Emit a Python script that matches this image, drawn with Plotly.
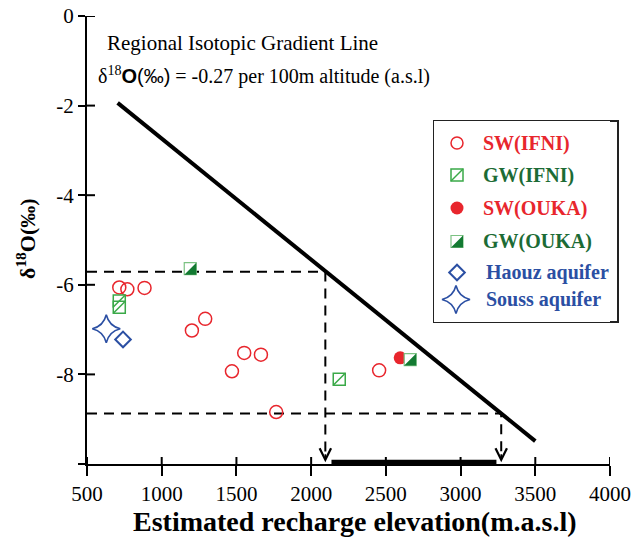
import plotly.graph_objects as go

# ---------------- data ----------------
sw_ifni_x = [716, 770, 885, 1291, 1202, 1552, 1664, 1470, 1766, 2455]
sw_ifni_y = [-6.06, -6.10, -6.07, -6.76, -7.02, -7.52, -7.56, -7.93, -8.84, -7.91]
gw_ifni_x = [716, 716, 2188]
gw_ifni_y = [-6.36, -6.50, -8.11]
sw_ouka_x = [2596]
sw_ouka_y = [-7.63]
gw_ouka_x = [1191, 2663]
gw_ouka_y = [-5.64, -7.67]
haouz_x = [741]
haouz_y = [-7.22]
souss_x = [629]
souss_y = [-6.98]
gradient_x = [705, 3500]
gradient_y = [-1.94, -9.49]
band_d18o = [-5.71, -8.87]          # isotopic limits (dashed)
band_elev = [2095, 3272]            # recharge elevations read on gradient line
recharge_bar = [2136, 3240]
x_ticks = [500, 1000, 1500, 2000, 2500, 3000, 3500, 4000]
x_tick_text = ["500", "1000", "1500", "2000", "2500", "3000", "3500", "4000"]
y_ticks = [0, -2, -4, -6, -8]
y_tick_text = ["0", "-2", "-4", "-6", "-8"]

legend_names = ["SW(IFNI)", "GW(IFNI)", "SW(OUKA)", "GW(OUKA)", "Haouz aquifer", "Souss aquifer"]

# ---------------- layout geometry ----------------
W, H = 644, 540
ML, MR, MT, MB = 87, 34, 16, 76
PW, PH = W - ML - MR, H - MT - MB
X_RANGE = [500, 4000]
Y_RANGE = [-10, 0]
px_x = PW / (X_RANGE[1] - X_RANGE[0])
px_y = PH / (Y_RANGE[1] - Y_RANGE[0])

RED = "#e8262d"
GREEN_L = "#3aa948"
GREEN_D = "#137a32"
GREEN_T = "#1c6b35"
BLUE = "#2b4fa3"
SERIF = "Liberation Serif"


def half_square(xs, ys, half_px, sx, sy):
    """lower-right filled triangle of a square centred on each point"""
    px, py = [], []
    for xc, yc in zip(xs, ys):
        dx, dy = half_px / sx, half_px / sy
        px += [xc + dx, xc + dx, xc - dx, xc + dx, None]
        py += [yc + dy, yc - dy, yc - dy, yc + dy, None]
    return px, py


fig = go.Figure()

# gradient line
fig.add_trace(go.Scatter(x=gradient_x, y=gradient_y, mode="lines",
                         line=dict(color="black", width=4), showlegend=False))

# dashed guides
dash = "10px,7px"
for yv, xv in zip(band_d18o, band_elev):
    fig.add_trace(go.Scatter(x=[X_RANGE[0], xv, xv], y=[yv, yv, Y_RANGE[0] + 0.15],
                             mode="lines", line=dict(color="black", width=2, dash=dash),
                             showlegend=False, cliponaxis=False))

# thick recharge bar on the x axis
fig.add_trace(go.Scatter(x=recharge_bar, y=[Y_RANGE[0] + 0.04] * 2, mode="lines",
                         line=dict(color="black", width=5), showlegend=False, cliponaxis=False))

# SW(IFNI)
fig.add_trace(go.Scatter(x=sw_ifni_x, y=sw_ifni_y, mode="markers", showlegend=False,
                         marker=dict(symbol="circle-open", size=13, color=RED, line=dict(width=1.5))))
# GW(IFNI)
fig.add_trace(go.Scatter(x=gw_ifni_x, y=gw_ifni_y, mode="markers", showlegend=False,
                         marker=dict(symbol="square", size=12, color="white",
                                     line=dict(width=1.5, color=GREEN_L))))
fig.add_trace(go.Scatter(x=gw_ifni_x, y=gw_ifni_y, mode="markers", showlegend=False,
                         marker=dict(symbol="line-ne", size=12, color=GREEN_L,
                                     line=dict(width=1.5, color=GREEN_L))))
# SW(OUKA)
fig.add_trace(go.Scatter(x=sw_ouka_x, y=sw_ouka_y, mode="markers", showlegend=False,
                         marker=dict(symbol="circle", size=13, color=RED)))
# GW(OUKA)
fig.add_trace(go.Scatter(x=gw_ouka_x, y=gw_ouka_y, mode="markers", showlegend=False,
                         marker=dict(symbol="square", size=12, color="white",
                                     line=dict(width=1.2, color="#7cc283"))))
tx, ty = half_square(gw_ouka_x, gw_ouka_y, 6, px_x, px_y)
fig.add_trace(go.Scatter(x=tx, y=ty, mode="lines", fill="toself", fillcolor=GREEN_D,
                         line=dict(width=0, color=GREEN_D), showlegend=False, hoverinfo="skip"))
# Haouz
fig.add_trace(go.Scatter(x=haouz_x, y=haouz_y, mode="markers", showlegend=False,
                         marker=dict(symbol="diamond-open", size=12, color=BLUE, line=dict(width=2))))
# Souss
fig.add_trace(go.Scatter(x=souss_x, y=souss_y, mode="markers", showlegend=False,
                         marker=dict(symbol="star-diamond-open", size=20, color=BLUE, line=dict(width=1.6))))

# ---------------- custom legend (pixel-based sub axes) ----------------
LBX0, LBX1, LBY0, LBY1 = 434, 618, 121, 322
lx_dom = [(LBX0 - ML) / PW, 1.0]
ly_dom = [(H - MB - LBY1) / PH, (H - MB - LBY0) / PH]
lx_range = [LBX0, ML + PW]
ly_range = [LBY1, LBY0]
row_y = [143, 175, 208, 241.5, 272.5, 299.5]
mk_x = 457
txt_x = [481, 481, 481, 481, 484, 484]
txt_col = [RED, GREEN_T, RED, GREEN_T, BLUE, BLUE]

def lg(trace):
    trace.update(xaxis="x2", yaxis="y2", showlegend=False, hoverinfo="skip")
    fig.add_trace(trace)

lg(go.Scatter(x=[mk_x], y=[row_y[0]], mode="markers",
              marker=dict(symbol="circle-open", size=12, color=RED, line=dict(width=1.5))))
lg(go.Scatter(x=[mk_x], y=[row_y[1]], mode="markers",
              marker=dict(symbol="square", size=12, color="white", line=dict(width=1.5, color=GREEN_L))))
lg(go.Scatter(x=[mk_x], y=[row_y[1]], mode="markers",
              marker=dict(symbol="line-ne", size=12, color=GREEN_L, line=dict(width=1.5, color=GREEN_L))))
lg(go.Scatter(x=[mk_x], y=[row_y[2]], mode="markers",
              marker=dict(symbol="circle", size=13, color=RED)))
lg(go.Scatter(x=[mk_x], y=[row_y[3]], mode="markers",
              marker=dict(symbol="square", size=12, color="white", line=dict(width=1.2, color="#7cc283"))))
ltx, lty = half_square([mk_x], [row_y[3]], 6, 1.0, -1.0)
lg(go.Scatter(x=ltx, y=lty, mode="lines", fill="toself", fillcolor=GREEN_D,
              line=dict(width=0, color=GREEN_D)))
lg(go.Scatter(x=[mk_x], y=[row_y[4]], mode="markers",
              marker=dict(symbol="diamond-open", size=12, color=BLUE, line=dict(width=2))))
lg(go.Scatter(x=[mk_x - 1], y=[row_y[5]], mode="markers",
              marker=dict(symbol="star-diamond-open", size=20, color=BLUE, line=dict(width=1.6))))

annotations = []
for name, yy, xx, col in zip(legend_names, row_y, txt_x, txt_col):
    annotations.append(dict(x=xx, y=yy, xref="x2", yref="y2", text="<b>%s</b>" % name,
                            showarrow=False, xanchor="left", yanchor="middle",
                            font=dict(family=SERIF, size=20, color=col)))

# arrowheads on vertical guides
for xv in band_elev:
    annotations.append(dict(x=xv, y=Y_RANGE[0] + 0.04, ax=xv, ay=Y_RANGE[0] + 0.25,
                            xref="x", yref="y", axref="x", ayref="y", text="",
                            showarrow=True, arrowhead=5, arrowsize=1.4, arrowwidth=1.6,
                            arrowcolor="black", standoff=0))

def paper_x(p):
    return (p - ML) / PW

def paper_y(p):
    return (H - MB - p) / PH

annotations.append(dict(x=paper_x(105), y=paper_y(43), xref="paper", yref="paper",
                        text="Regional Isotopic Gradient Line", showarrow=False,
                        xanchor="left", yanchor="middle",
                        font=dict(family=SERIF, size=21, color="black")))
annotations.append(dict(x=paper_x(96), y=paper_y(75), xref="paper", yref="paper",
                        text="δ<sup>18</sup><span style='font-family:Liberation Sans'><b>O</b>(‰)</span> = -0.27 per 100m altitude (a.s.l)",
                        showarrow=False, xanchor="left", yanchor="middle",
                        font=dict(family=SERIF, size=20, color="black")))
annotations.append(dict(x=paper_x(26), y=paper_y(239), xref="paper", yref="paper",
                        text="<b>δ<sup>18</sup>O(‰)</b>", textangle=-90, showarrow=False,
                        xanchor="center", yanchor="middle",
                        font=dict(family=SERIF, size=22, color="black")))
annotations.append(dict(x=paper_x(355), y=paper_y(521), xref="paper", yref="paper",
                        text="<b>Estimated recharge elevation(m.a.s.l)</b>", showarrow=False,
                        xanchor="center", yanchor="middle",
                        font=dict(family=SERIF, size=28, color="black")))

shapes = [dict(type="rect", xref="paper", yref="paper",
               x0=paper_x(LBX0), x1=paper_x(LBX1), y0=paper_y(LBY1), y1=paper_y(LBY0),
               line=dict(color="#222222", width=2), fillcolor="rgba(0,0,0,0)", layer="below")]
# x axis line extension to the left of the y axis
shapes.append(dict(type="line", xref="paper", yref="paper", x0=paper_x(78), x1=0,
                   y0=0, y1=0, line=dict(color="black", width=2)))
# inner halves of the crossing tick marks
for xv in x_ticks:
    shapes.append(dict(type="line", xref="x", yref="paper", x0=xv, x1=xv,
                       y0=0, y1=7 / PH, line=dict(color="black", width=2)))
for yv in y_ticks:
    shapes.append(dict(type="line", xref="paper", yref="y", x0=0, x1=8 / PW,
                       y0=yv, y1=yv, line=dict(color="black", width=2)))

fig.update_layout(
    width=W, height=H,
    margin=dict(l=ML, r=MR, t=MT, b=MB, autoexpand=False),
    paper_bgcolor="white", plot_bgcolor="white",
    showlegend=False,
    xaxis=dict(range=X_RANGE, tickvals=x_ticks, ticktext=x_tick_text, ticks="outside",
               ticklen=10, tickwidth=2, automargin=False,
               tickcolor="black", showline=True, linewidth=2, linecolor="black",
               showgrid=False, zeroline=False,
               tickfont=dict(family=SERIF, size=21, color="black")),
    yaxis=dict(range=Y_RANGE, tickvals=y_ticks, ticktext=y_tick_text, ticks="outside",
               ticklen=7, tickwidth=2, automargin=False,
               tickcolor="black", showline=True, linewidth=2, linecolor="black",
               showgrid=False, zeroline=False,
               tickfont=dict(family=SERIF, size=21, color="black")),
    xaxis2=dict(domain=lx_dom, range=lx_range, anchor="y2", visible=False, fixedrange=True),
    yaxis2=dict(domain=ly_dom, range=ly_range, anchor="x2", visible=False, fixedrange=True),
    annotations=annotations,
    shapes=shapes,
)

fig.write_html("out.html", config={"displayModeBar": False},
               post_script="document.body.style.margin='0px';")
